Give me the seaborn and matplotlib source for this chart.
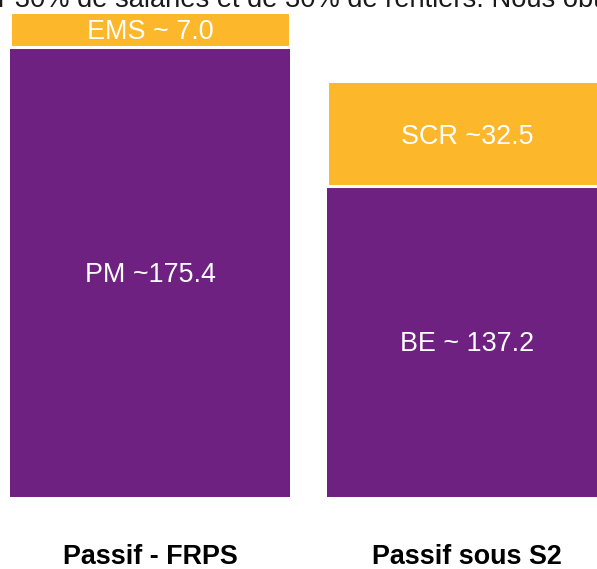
import matplotlib
matplotlib.use("Agg")
import matplotlib.pyplot as plt
import pandas as pd
import seaborn as sns

# segment heights as drawn in the picture (the labels carry the stated values)
bilans = ["Passif - FRPS", "Passif sous S2"]
base_heights = [175.4, 121.2]
top_heights = [13.7, 40.9]
base_labels = ["PM ~175.4", "BE ~ 137.2"]
top_labels = ["EMS ~ 7.0", "SCR ~32.5"]
header_text = "r 30% de salariés et de 30% de rentiers. Nous obtenons"

PURPLE = "#6E2181"
ORANGE = "#FDB72B"

sns.set_theme(style="white")
plt.rcParams["font.family"] = ["Liberation Sans", "DejaVu Sans"]

df = pd.DataFrame({"bilan": bilans, "base": base_heights, "top": top_heights})

W, H = 597, 569
fig = plt.figure(figsize=(W / 100, H / 100), dpi=100)
ax = fig.add_axes([-8.5 / W, 72 / H, 634 / W, 497 / H])

sns.barplot(data=df, x="bilan", y="base", color=PURPLE, width=0.883,
            errorbar=None, saturation=1, linewidth=0, ax=ax)
sns.barplot(data=df, x="bilan", y="top", color=ORANGE, width=0.883,
            errorbar=None, saturation=1, bottom=df["base"].tolist(),
            edgecolor="white", linewidth=2.2, ax=ax)

ax.bar_label(ax.containers[0], labels=base_labels, label_type="center",
             color="white", fontsize=19.4, padding=-2)
ax.bar_label(ax.containers[1], labels=top_labels, label_type="center",
             color="white", fontsize=19.4, padding=-2)

ax.set_xlim(-0.5, 1.5)
ax.set_ylim(0, 193.8)
ax.set_yticks([])
ax.set_xlabel("")
ax.set_ylabel("")
ax.tick_params(axis="x", length=0, pad=34, labelsize=19.4)
for lbl in ax.get_xticklabels():
    lbl.set_fontweight("bold")
    lbl.set_color("black")
sns.despine(ax=ax, left=True, bottom=True)

fig.text(-2 / W, 1 - 7 / H, header_text, ha="left", va="baseline",
         fontsize=19.6, color="#1a1a1a")

fig.savefig("out.png", dpi=100)
